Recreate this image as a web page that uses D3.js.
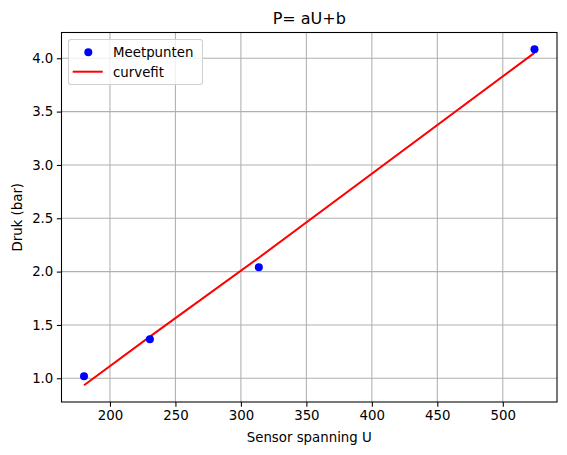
<!DOCTYPE html>
<html><head><meta charset="utf-8">
<script src="https://cdn.jsdelivr.net/npm/d3@7"></script>
<style>body{margin:0;background:#fff}svg{display:block}text{font-family:"DejaVu Sans",sans-serif;fill:#000}</style>
</head><body>
<script>
const measX = [180.2, 230.5, 313.7, 524.2];
const measY = [1.019, 1.366, 2.041, 4.084];
const fitY = [0.935, 1.39, 2.13, 4.05];
const xTicks = [200, 250, 300, 350, 400, 450, 500];
const yTicks = [1.0, 1.5, 2.0, 2.5, 3.0, 3.5, 4.0];
const labels = {title: "P= aU+b", x: "Sensor spanning U", y: "Druk (bar)", s1: "Meetpunten", s2: "curvefit"};

const W = 567, H = 455;
const L = 61.5, R = 557, T = 32.5, B = 402;
const FS = 13.33;
const svg = d3.select("body").append("svg").attr("width", W).attr("height", H);

const xmin = d3.min(measX), xmax = d3.max(measX);
const ymin = d3.min(fitY.concat(measY)), ymax = d3.max(fitY.concat(measY));
const x = d3.scaleLinear().domain([xmin - 0.05*(xmax-xmin), xmax + 0.05*(xmax-xmin)]).range([L, R]);
const y = d3.scaleLinear().domain([ymin - 0.05*(ymax-ymin), ymax + 0.05*(ymax-ymin)]).range([B, T]);

// grid
const g = svg.append("g");
g.selectAll(".gx").data(xTicks).enter().append("line")
  .attr("x1", d => x(d)).attr("x2", d => x(d)).attr("y1", T).attr("y2", B)
  .attr("stroke", "#b0b0b0").attr("stroke-width", 1.07);
g.selectAll(".gy").data(yTicks).enter().append("line")
  .attr("y1", d => y(d)).attr("y2", d => y(d)).attr("x1", L).attr("x2", R)
  .attr("stroke", "#b0b0b0").attr("stroke-width", 1.07);

// axes
const xAxis = d3.axisBottom(x).tickValues(xTicks).tickSize(4.67).tickPadding(3.5).tickFormat(d3.format("d"));
const yAxis = d3.axisLeft(y).tickValues(yTicks).tickSize(4.67).tickPadding(3.5).tickFormat(d3.format(".1f"));
const ax = svg.append("g").attr("transform", `translate(0,${B})`).call(xAxis);
const ay = svg.append("g").attr("transform", `translate(${L},0)`).call(yAxis);
[ax, ay].forEach(a => {
  a.select(".domain").remove();
  a.selectAll("line").attr("stroke", "#000").attr("stroke-width", 1.07);
  a.selectAll("text").attr("font-size", FS).attr("font-family", "DejaVu Sans").attr("fill", "#000");
});

// data
const line = d3.line().x((d, i) => x(measX[i])).y(d => y(d));
svg.append("path").datum(fitY).attr("d", line).attr("fill", "none").attr("stroke", "red").attr("stroke-width", 2);
svg.selectAll(".pt").data(measY).enter().append("circle")
  .attr("cx", (d, i) => x(measX[i])).attr("cy", d => y(d)).attr("r", 4).attr("fill", "blue");

// frame
svg.append("rect").attr("x", L).attr("y", T).attr("width", R-L).attr("height", B-T)
  .attr("fill", "none").attr("stroke", "#000").attr("stroke-width", 1.07);

// title & labels
svg.append("text").attr("x", (L+R)/2).attr("y", 24).attr("text-anchor", "middle").attr("font-size", 16).text(labels.title);
svg.append("text").attr("x", (L+R)/2).attr("y", 441.5).attr("text-anchor", "middle").attr("font-size", FS).text(labels.x);
svg.append("text").attr("transform", `translate(21.5,${(T+B)/2}) rotate(-90)`).attr("text-anchor", "middle").attr("font-size", FS).text(labels.y);

// legend
const lg = svg.append("g");
lg.append("rect").attr("x", 68.5).attr("y", 39.5).attr("width", 134).attr("height", 45).attr("rx", 2.7)
  .attr("fill", "#fff").attr("fill-opacity", 0.8).attr("stroke", "#d0d0d0").attr("stroke-width", 1.07);
lg.append("circle").attr("cx", 88.3).attr("cy", 52.3).attr("r", 4).attr("fill", "blue");
lg.append("line").attr("x1", 72.7).attr("x2", 102.7).attr("y1", 71.7).attr("y2", 71.7).attr("stroke", "red").attr("stroke-width", 2);
lg.append("text").attr("x", 113).attr("y", 56.8).attr("font-size", FS).text(labels.s1);
lg.append("text").attr("x", 113).attr("y", 76.6).attr("font-size", FS).text(labels.s2);
</script>
</body></html>
